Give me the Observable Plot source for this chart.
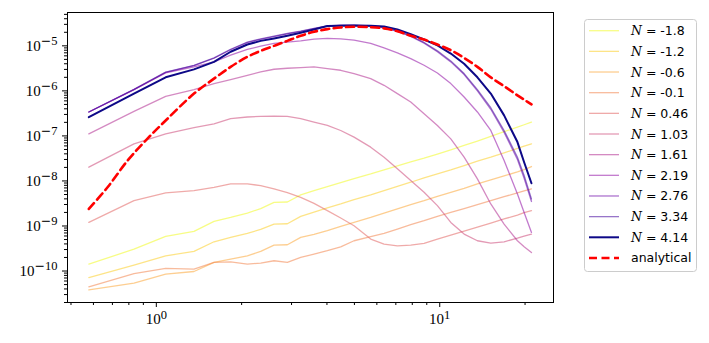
<!DOCTYPE html>
<html><head><meta charset="utf-8">
<script src="https://cdn.jsdelivr.net/npm/d3@7"></script>
<script src="https://cdn.jsdelivr.net/npm/@observablehq/plot@0.6"></script>
<style>body{margin:0;background:#fff;}</style>
</head><body><div id="chart"></div>
<script>
// wavenumber grid (x)
const k = [0.578, 0.834, 1.079, 1.358, 1.598, 1.829, 2.095, 2.335, 2.602, 2.900, 3.232, 3.601, 4.013, 4.473, 4.985, 5.707, 6.361, 7.089, 7.901, 8.805, 9.812, 10.94, 12.19, 13.58, 15.14, 16.87, 18.80, 19.85, 21.07];
const labels = ["-1.8", "-1.2", "-0.6", "-0.1", "0.46", "1.03", "1.61", "2.19", "2.76", "3.34", "4.14"];
const P_m18 = [1.42e-10, 3.06e-10, 5.87e-10, 7.58e-10, 1.27e-9, 1.55e-9, 1.94e-9, 2.43e-9, 3.35e-9, 3.41e-9, 4.89e-9, 6.1e-9, 7.49e-9, 9.2e-9, 1.13e-8, 1.43e-8, 1.76e-8, 2.16e-8, 2.65e-8, 3.2e-8, 3.93e-8, 4.91e-8, 6.13e-8, 7.66e-8, 9.73e-8, 1.24e-7, 1.57e-7, 1.77e-7, 2.03e-7];
const P_m12 = [7.17e-11, 1.35e-10, 2.18e-10, 2.72e-10, 4.46e-10, 5.57e-10, 6.84e-10, 8.4e-10, 1.1e-9, 1.12e-9, 1.64e-9, 2.04e-9, 2.51e-9, 3.08e-9, 3.85e-9, 4.89e-9, 6.1e-9, 7.62e-9, 9.36e-9, 1.17e-8, 1.43e-8, 1.76e-8, 2.2e-8, 2.75e-8, 3.37e-8, 4.21e-8, 5.26e-8, 5.93e-8, 6.68e-8];
const P_m06 = [3.81e-11, 5.36e-11, 8.5e-11, 9.75e-11, 1.55e-10, 1.84e-10, 2.18e-10, 2.72e-10, 3.76e-10, 3.83e-10, 5.57e-10, 6.5e-10, 7.85e-10, 9.8e-10, 1.2e-9, 1.55e-9, 1.94e-9, 2.39e-9, 2.98e-9, 3.65e-9, 4.56e-9, 5.6e-9, 6.88e-9, 8.6e-9, 1.05e-8, 1.29e-8, 1.59e-8, 1.79e-8, 2.09e-8];
const P_m01 = [4.44e-11, 8.8e-11, 1.14e-10, 1.1e-10, 1.55e-10, 1.6e-10, 1.42e-10, 1.5e-10, 1.69e-10, 1.55e-10, 2.0e-10, 2.37e-10, 2.82e-10, 3.45e-10, 4.7e-10, 5.77e-10, 6.84e-10, 8.55e-10, 1.07e-9, 1.31e-9, 1.64e-9, 2.0e-9, 2.43e-9, 2.98e-9, 3.65e-9, 4.48e-9, 5.41e-9, 6.0e-9, 6.65e-9];
const P_046 = [1.2e-9, 3.65e-9, 5.41e-9, 6.1e-9, 7.24e-9, 8.6e-9, 8.6e-9, 7.89e-9, 6.65e-9, 5.51e-9, 4.33e-9, 3.18e-9, 2.19e-9, 1.5e-9, 1.01e-9, 5.12e-10, 3.96e-10, 3.63e-10, 3.76e-10, 4.1e-10, 5.12e-10, 6.28e-10, 7.71e-10, 9.47e-10, 1.16e-9, 1.43e-9, 1.75e-9, 1.97e-9, 2.19e-9];
const P_103 = [2.02e-8, 6.68e-8, 1.11e-7, 1.52e-7, 1.86e-7, 2.41e-7, 2.63e-7, 2.71e-7, 2.75e-7, 2.71e-7, 2.41e-7, 2.03e-7, 1.71e-7, 1.32e-7, 9.4e-8, 5.63e-8, 3.37e-8, 1.86e-8, 1.02e-8, 5.6e-9, 2.83e-9, 1.2e-9, 6.6e-10, 4.7e-10, 4.17e-10, 4.46e-10, 5.38e-10, 5.97e-10, 6.6e-10];
const P_161 = [1.11e-7, 3.51e-7, 7.56e-7, 1.07e-6, 1.45e-6, 1.78e-6, 2.22e-6, 2.64e-6, 3.02e-6, 3.18e-6, 3.29e-6, 3.41e-6, 3.13e-6, 2.87e-6, 2.42e-6, 1.87e-6, 1.33e-6, 8.7e-7, 5.66e-7, 3.11e-7, 1.71e-7, 8.6e-8, 3.37e-8, 1.11e-8, 3.08e-9, 1.1e-9, 4.7e-10, 3.45e-10, 2.58e-10];
const P_219 = [3.4e-7, 1.07e-6, 2.5e-6, 3.41e-6, 4.4e-6, 6.2e-6, 8.3e-6, 9.83e-6, 1.13e-5, 1.21e-5, 1.29e-5, 1.41e-5, 1.46e-5, 1.43e-5, 1.34e-5, 1.13e-5, 9.0e-6, 6.98e-6, 5.22e-6, 3.7e-6, 2.5e-6, 1.45e-6, 7.3e-7, 3.4e-7, 1.32e-7, 2.84e-8, 5.14e-9, 2.0e-9, 7.2e-10];
const P_276 = [3.4e-7, 1.07e-6, 2.58e-6, 3.65e-6, 5.3e-6, 8.2e-6, 1.18e-5, 1.40e-5, 1.61e-5, 1.85e-5, 2.09e-5, 2.41e-5, 2.75e-5, 2.85e-5, 2.85e-5, 2.75e-5, 2.5e-5, 2.1e-5, 1.62e-5, 1.15e-5, 7.4e-6, 4.4e-6, 2.3e-6, 1.0e-6, 3.9e-7, 1.2e-7, 3.0e-8, 1.15e-8, 3.5e-9];
const P_334 = [3.4e-7, 1.08e-6, 2.6e-6, 3.7e-6, 5.4e-6, 8.4e-6, 1.21e-5, 1.43e-5, 1.64e-5, 1.88e-5, 2.12e-5, 2.44e-5, 2.79e-5, 2.88e-5, 2.88e-5, 2.79e-5, 2.56e-5, 2.16e-5, 1.67e-5, 1.19e-5, 7.74e-6, 4.63e-6, 2.42e-6, 1.07e-6, 4.23e-7, 1.32e-7, 3.37e-8, 1.32e-8, 3.98e-9];
const P_414 = [2.6e-7, 8.7e-7, 2.0e-6, 3.0e-6, 4.4e-6, 7.4e-6, 1.07e-5, 1.29e-5, 1.46e-5, 1.67e-5, 1.95e-5, 2.31e-5, 2.75e-5, 2.79e-5, 2.84e-5, 2.79e-5, 2.7e-5, 2.31e-5, 1.82e-5, 1.38e-5, 1.02e-5, 6.75e-6, 4.0e-6, 2.0e-6, 8.7e-7, 2.86e-7, 7.3e-8, 2.6e-8, 8.9e-9];
// analytical curve
const kAna = [0.578, 0.673, 0.792, 0.929, 1.079, 1.358, 1.598, 1.829, 2.095, 2.335, 2.602, 2.900, 3.232, 3.601, 4.013, 4.473, 4.985, 5.707, 6.361, 7.089, 7.901, 8.805, 9.812, 10.94, 12.19, 13.58, 15.14, 16.87, 18.80, 19.85, 21.07];
const P_ana = [2.39e-9, 7.24e-9, 2.84e-8, 8.6e-8, 2.2e-7, 8.7e-7, 1.87e-6, 3.41e-6, 5.69e-6, 7.74e-6, 1.0e-5, 1.29e-5, 1.67e-5, 2.05e-5, 2.35e-5, 2.56e-5, 2.65e-5, 2.6e-5, 2.44e-5, 2.12e-5, 1.67e-5, 1.38e-5, 1.07e-5, 8.0e-6, 5.4e-6, 3.41e-6, 2.0e-6, 1.27e-6, 7.97e-7, 6.38e-7, 5.02e-7];
// axis ticks
const xMajor = [1, 10];
const xMajorLabels = ["10^0", "10^1"];
const xMinor = [0.5, 0.6, 0.7, 0.8, 0.9, 2, 3, 4, 5, 6, 7, 8, 9, 20];
const yMajor = [1e-10, 1e-9, 1e-8, 1e-7, 1e-6, 1e-5];
const yMajorLabels = ["10^\u221210", "10^\u22129", "10^\u22128", "10^\u22127", "10^\u22126", "10^\u22125"];
const yDecades = [1e-11, 1e-10, 1e-9, 1e-8, 1e-7, 1e-6, 1e-5];
const yMinor = yDecades.flatMap(d => [2,3,4,5,6,7,8,9].map(m => m * d)).filter(v => v >= 2.0e-11 && v <= 5.5e-5);

const series = [P_m18, P_m12, P_m06, P_m01, P_046, P_103, P_161, P_219, P_276, P_334, P_414];
const rows = series.flatMap((s, i) => k.map((x, j) => ({k: x, P: s[j], N: labels[i]})));
const ana = kAna.map((x, j) => ({k: x, P: P_ana[j]}));
const colorOf = lab => d3.interpolatePlasma(1 - labels.indexOf(lab) / 10);
const tickFont = "'Liberation Serif', 'DejaVu Serif', serif";

const svg = Plot.plot({
  width: 709, height: 343,
  marginLeft: 67, marginRight: 156, marginTop: 12, marginBottom: 41,
  style: {fontFamily: tickFont, fontSize: "15px", color: "black", background: "white"},
  x: {type: "log", domain: [0.486, 25.2], label: null},
  y: {type: "log", domain: [2.0e-11, 5.5e-5], label: null},
  color: {type: "ordinal", domain: labels, range: labels.map(colorOf)},
  marks: [
    Plot.line(rows.filter(d => d.N !== "4.14"), {x: "k", y: "P", z: "N", stroke: "N", strokeWidth: 1.3, strokeOpacity: 0.55}),
    Plot.line(rows.filter(d => d.N === "4.14"), {x: "k", y: "P", stroke: "N", strokeWidth: 2}),
    Plot.line(ana, {x: "k", y: "P", stroke: "#ff0000", strokeWidth: 2.6, strokeDasharray: "8,4.5", curve: "catmull-rom"}),
    Plot.frame({stroke: "black", strokeWidth: 1}),
    Plot.axisX(xMinor, {tickSize: 3, tickFormat: () => "", stroke: "black"}),
    Plot.axisX(xMajor, {tickSize: 5, tickPadding: 6, tickFormat: d => xMajorLabels[xMajor.indexOf(d)], stroke: "black", fill: "black"}),
    Plot.axisY(yMinor, {tickSize: 3, tickFormat: () => "", stroke: "black"}),
    Plot.axisY(yMajor, {tickSize: 5, tickPadding: 5, tickFormat: d => yMajorLabels[yMajor.indexOf(d)], stroke: "black", fill: "black"})
  ]
});

// superscripts in tick labels
d3.select(svg).selectAll("text").each(function() {
  const t = this.textContent;
  if (t.includes("^")) {
    const [base, exp] = t.split("^");
    const s = d3.select(this);
    s.text(null);
    s.attr("font-size", "15px").attr("font-family", tickFont);
    s.append("tspan").text(base);
    if (exp.startsWith("\u2212")) {
      s.append("tspan").attr("dy", "-0.45em").attr("font-size", "12.5px")
        .attr("font-family", "'DejaVu Sans', sans-serif").text("\u2212");
      s.append("tspan").attr("font-size", "12.5px").text(exp.slice(1));
    } else {
      s.append("tspan").attr("dy", "-0.45em").attr("font-size", "12.5px").text(exp);
    }
  }
});

// legend
const lg = d3.select(svg).append("g").attr("text-anchor", "start");
const entries = labels.map(l => ({lab: l, color: colorOf(l), op: l === "4.14" ? 1 : 0.55, w: l === "4.14" ? 2 : 1.3, dash: null}))
  .concat([{lab: null, color: "#ff0000", op: 1, w: 2.6, dash: "8,4.5"}]);
lg.append("rect").attr("x", 584.5).attr("y", 19.5).attr("width", 112).attr("height", 252)
  .attr("rx", 3).attr("fill", "white").attr("stroke", "#cccccc").attr("stroke-width", 1);
entries.forEach((e, i) => {
  const y = 30.7 + i * 20.66;
  lg.append("line").attr("x1", 589).attr("x2", 619).attr("y1", y).attr("y2", y)
    .attr("stroke", e.color).attr("stroke-opacity", e.op).attr("stroke-width", e.w)
    .attr("stroke-dasharray", e.dash);
  const t = lg.append("text").attr("x", 631).attr("y", y).attr("dy", "0.36em").attr("text-anchor", "start")
    .attr("font-family", "'DejaVu Sans', sans-serif").attr("font-size", "12.5px").attr("fill", "black");
  if (e.lab === null) {
    t.text("analytical");
  } else {
    t.append("tspan").attr("font-family", "'DejaVu Serif', serif").attr("font-style", "italic").text("N");
    t.append("tspan").text(" = " + e.lab);
  }
});

document.getElementById("chart").appendChild(svg);
</script>
</body></html>
